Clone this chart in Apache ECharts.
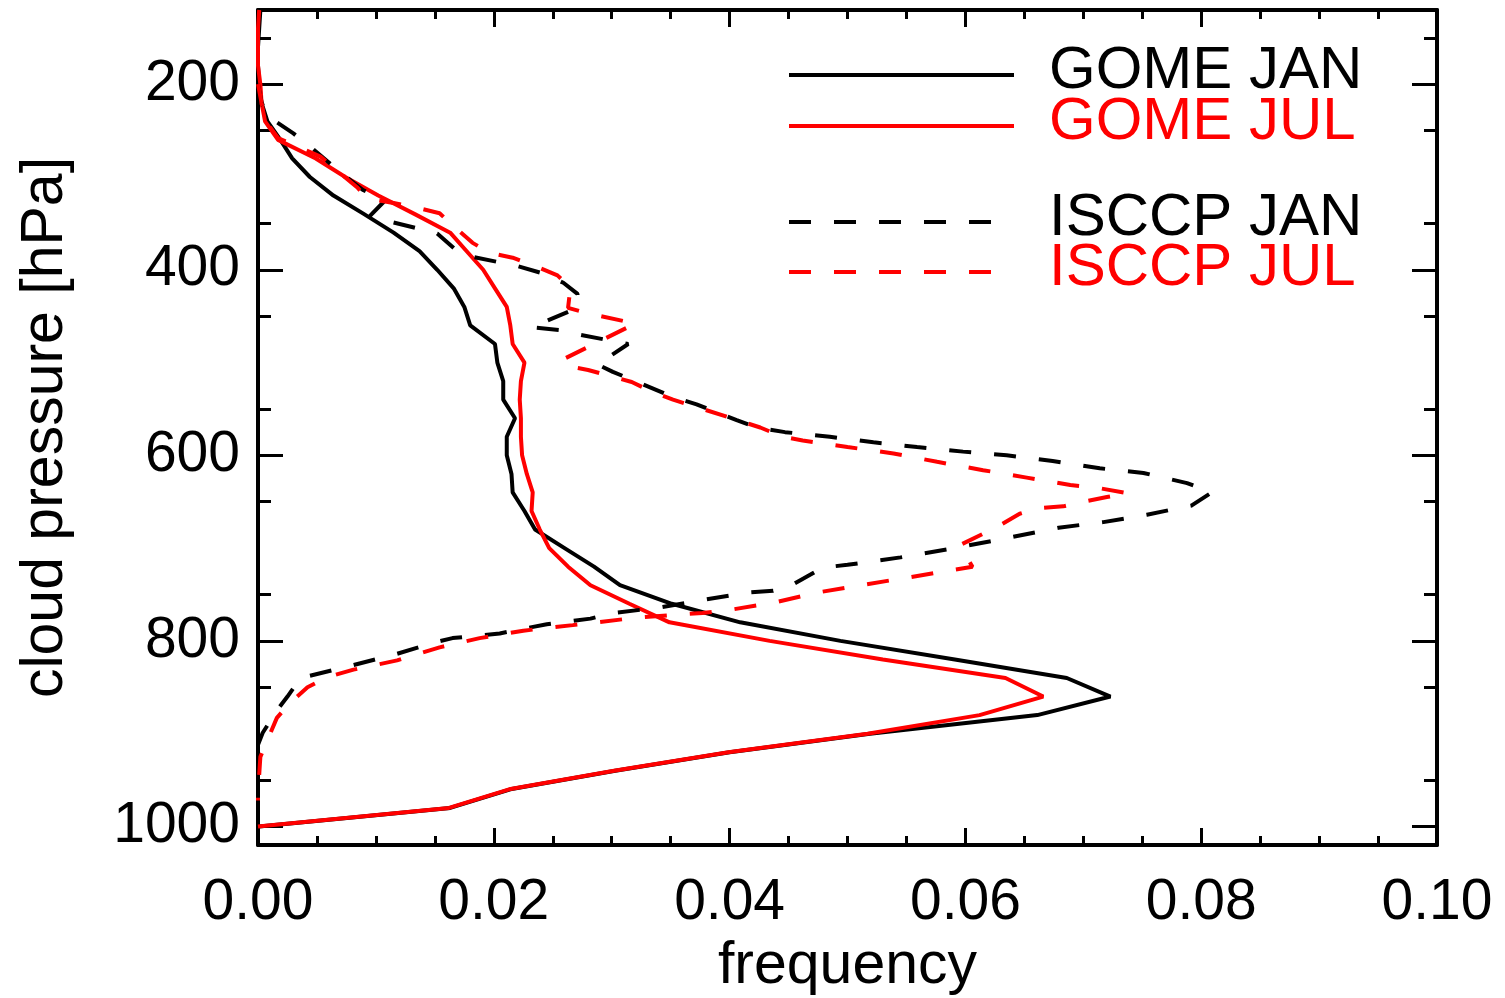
<!DOCTYPE html>
<html><head><meta charset="utf-8">
<script src="https://cdn.jsdelivr.net/npm/echarts@6/dist/echarts.min.js"></script>
<style>html,body{margin:0;padding:0;background:#fff}#c{width:1505px;height:998px}</style>
</head><body><div id="c"></div>
<script>
// ---- data ----
const gomePressure = [120,140,160,180,200,220,240,260,280,300,320,340,360,380,400,420,440,460,480,500,520,540,560,580,600,620,640,660,680,700,720,740,760,780,800,820,840,860,880,900,920,940,960,980,1000];
const gomeJan = [0.0002,0.0001,0.0000,0.0000,0.0001,0.0003,0.0008,0.0019,0.0029,0.0044,0.0064,0.0090,0.0115,0.0137,0.0152,0.0166,0.0175,0.0180,0.0201,0.0203,0.0208,0.0208,0.0218,0.0211,0.0211,0.0215,0.0216,0.0226,0.0235,0.0260,0.0285,0.0307,0.0351,0.0409,0.0494,0.0591,0.0686,0.0723,0.0661,0.0519,0.0400,0.0303,0.0214,0.0163,0.0001];
const gomeJul = [0.0001,0.0000,0.0000,0.0000,0.0002,0.0003,0.0006,0.0017,0.0049,0.0074,0.0102,0.0133,0.0163,0.0177,0.0191,0.0201,0.0211,0.0214,0.0216,0.0226,0.0223,0.0222,0.0223,0.0223,0.0224,0.0228,0.0233,0.0232,0.0239,0.0247,0.0263,0.0282,0.0315,0.0349,0.0434,0.0530,0.0634,0.0666,0.0612,0.0517,0.0399,0.0302,0.0213,0.0162,0.0000];

const isccpJanFreq = [0.0000,0.0003,0.0010,0.0030,0.0044,0.0070,0.0089,0.0108,0.0095,0.0115,0.0137,0.0152,0.0169,0.0182,0.0205,0.0220,0.0242,0.0259,0.0271,0.0271,0.0232,0.0256,0.0273,0.0314,0.0288,0.0301,0.0352,0.0372,0.0406,0.0423,0.0447,0.0485,0.0522,0.0559,0.0598,0.0635,0.0674,0.0714,0.0751,0.0788,0.0809,0.0792,0.0754,0.0717,0.0679,0.0640,0.0595,0.0545,0.0500,0.0479,0.0454,0.0437,0.0415,0.0377,0.0341,0.0301,0.0282,0.0245,0.0205,0.0165,0.0152,0.0115,0.0075,0.0036,0.0025,0.0016,0.0004,0.0000];
const isccpJanPres = [200,220,236,253,267,295,314,325,342,349,356,361,380,386,392,396,404,414,426,441,462,465,470,480,502,510,537,545,562,570,575,580,586,591,596,600,606,614,619,630,640,654,664,672,678,688,699,710,718,721,739,746,748,756,764,770,776,782,792,797,801,815,828,840,860,875,899,912];

const isccpJulFreq = [0.0000,0.0003,0.0006,0.0017,0.0053,0.0067,0.0084,0.0093,0.0115,0.0131,0.0154,0.0165,0.0182,0.0197,0.0216,0.0233,0.0254,0.0265,0.0263,0.0280,0.0320,0.0258,0.0263,0.0280,0.0317,0.0335,0.0352,0.0372,0.0409,0.0426,0.0445,0.0462,0.0500,0.0539,0.0576,0.0615,0.0652,0.0689,0.0712,0.0738,0.0720,0.0700,0.0683,0.0662,0.0646,0.0627,0.0595,0.0606,0.0587,0.0550,0.0511,0.0474,0.0437,0.0398,0.0377,0.0352,0.0321,0.0267,0.0225,0.0188,0.0154,0.0118,0.0081,0.0059,0.0042,0.0027,0.0016,0.0008,0.0002,0.0000,0.0000];
const isccpJulPres = [200,220,239,258,278,293,311,323,328,332,339,352,371,382,387,395,406,419,441,447,458,497,504,508,521,532,540,548,563,570,580,584,591,598,607,616,624,632,635,641,645,650,655,657,663,677,697,720,724,732,740,748,759,767,770,772,775,783,789,797,807,821,831,839,850,867,883,907,925,964,972];

const yMajorTicks = [200, 400, 600, 800, 1000];
const yMinorTicks = [150, 250, 350, 450, 550, 650, 750, 850, 950];
const seriesNames = ['GOME JAN', 'GOME JUL', 'ISCCP JAN', 'ISCCP JUL'];

// ---- chart ----
const FONT = 'Liberation Sans';
const LW = 4;
const zip = (a, b) => a.map((v, i) => [v, b[i]]);
const lineStyleAxis = {color: '#000', width: 4};
const tickStyle = {color: '#000', width: 3};

function yAx(pos, ticks, len, showLabel, showLine) {
  return {
    type: 'value', position: pos, inverse: true, min: 120, max: 1020,
    splitLine: {show: false},
    axisLine: {show: showLine, onZero: false, lineStyle: lineStyleAxis},
    axisTick: {show: true, inside: true, length: len, customValues: ticks, lineStyle: tickStyle},
    axisLabel: showLabel ? {show: true, customValues: ticks, fontSize: 57, fontFamily: FONT, color: '#000', margin: 18,
      formatter: v => String(v)} : {show: false}
  };
}
function xAx(pos, showLabel) {
  const a = {
    type: 'value', position: pos, min: 0, max: 0.1, interval: 0.02,
    splitLine: {show: false},
    axisLine: {show: true, onZero: false, lineStyle: lineStyleAxis},
    axisTick: {show: true, inside: true, length: 17, lineStyle: tickStyle},
    minorTick: {show: true, splitNumber: 4, length: 9, lineStyle: tickStyle},
    axisLabel: showLabel ? {show: true, fontSize: 57, fontFamily: FONT, color: '#000', margin: 30,
      formatter: v => v.toFixed(2)} : {show: false}
  };
  if (showLabel) {
    a.name = 'frequency'; a.nameLocation = 'middle'; a.nameGap = 91;
    a.nameTextStyle = {fontSize: 59, fontFamily: FONT, color: '#000'};
  }
  return a;
}
const yMain = yAx('left', yMajorTicks, 25, true, true);
yMain.name = 'cloud pressure [hPa]'; yMain.nameLocation = 'middle'; yMain.nameGap = 183;
yMain.nameTextStyle = {fontSize: 59, fontFamily: FONT, color: '#000'};

const legendText = {
  fontSize: 60, fontFamily: FONT,
  rich: {
    k: {color: '#000', fontSize: 60, fontFamily: FONT, padding: [0, 0, 8, 30]},
    r: {color: '#f00', fontSize: 60, fontFamily: FONT, padding: [0, 0, 8, 30]}
  }
};
const legendFmt = n => (n.endsWith('JUL') ? '{r|' : '{k|') + n + '}';
const legendTops = [41, 92, 188, 238];
const legends = seriesNames.map((n, i) => ({
  data: [n], orient: 'vertical', left: 787, top: legendTops[i], padding: 0,
  itemWidth: 225, itemHeight: 14, itemGap: 0, selectedMode: false,
  itemStyle: {opacity: 0}, lineStyle: {width: LW},
  textStyle: legendText, formatter: legendFmt
}));

const chart = echarts.init(document.getElementById('c'), null, {renderer: 'canvas'});
chart.setOption({
  backgroundColor: '#fff',
  animation: false,
  textStyle: {fontFamily: FONT},
  grid: {left: 258, right: 68, top: 10, bottom: 153, containLabel: false, outerBoundsMode: 'none'},
  xAxis: [xAx('bottom', true), xAx('top', false)],
  yAxis: [yMain, yAx('left', yMinorTicks, 13, false, false), yAx('right', yMajorTicks, 25, false, true), yAx('right', yMinorTicks, 13, false, false)],
  legend: legends,
  series: [
    {name: seriesNames[0], type: 'line', data: zip(gomeJan, gomePressure), symbol: 'none', showSymbol: false,
     lineStyle: {color: '#000', width: LW}, itemStyle: {color: '#000'}},
    {name: seriesNames[1], type: 'line', data: zip(gomeJul, gomePressure), symbol: 'none', showSymbol: false,
     lineStyle: {color: '#f00', width: LW}, itemStyle: {color: '#f00'}},
    {name: seriesNames[2], type: 'line', data: zip(isccpJanFreq, isccpJanPres), symbol: 'none', showSymbol: false,
     lineStyle: {color: '#000', width: LW, type: [22, 23]}, itemStyle: {color: '#000'}},
    {name: seriesNames[3], type: 'line', data: zip(isccpJulFreq, isccpJulPres), symbol: 'none', showSymbol: false,
     lineStyle: {color: '#f00', width: LW, type: [22, 23]}, itemStyle: {color: '#f00'}}
  ]
});
</script>
</body></html>
